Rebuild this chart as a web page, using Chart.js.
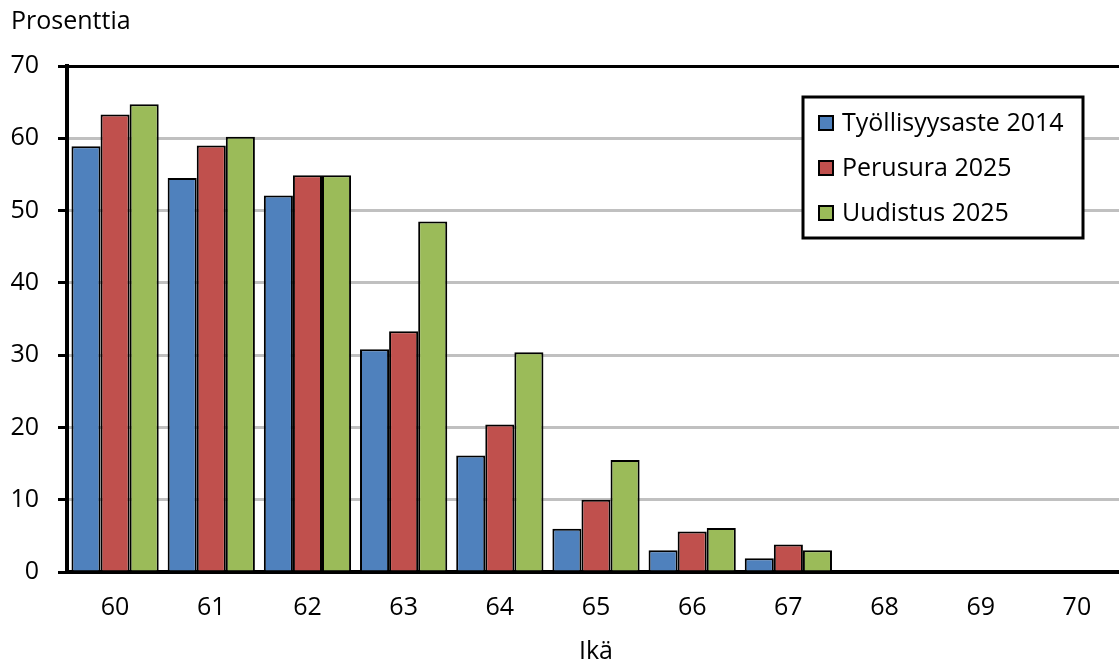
<!DOCTYPE html>
<html>
<head>
<meta charset="utf-8">
<script src="https://cdn.jsdelivr.net/npm/chart.js@4/dist/chart.umd.min.js"></script>
<style>
  html, body { margin: 0; padding: 0; background: #fff; overflow: hidden; }
  #wrap { width: 1119px; height: 668px; overflow: hidden; }
  canvas { display: block; }
</style>
</head>
<body>
<div id="wrap"><canvas id="c" width="1130" height="668"></canvas></div>
<script>
// Ages on the horizontal axis
const ages = ['60', '61', '62', '63', '64', '65', '66', '67', '68', '69', '70'];

// Employment rate by age, percent
const tyollisyysaste2014 = [58.9, 54.5, 52.1, 30.8, 16.1, 6.0, 3.0, 1.9, 0, 0, 0];
const perusura2025       = [63.3, 59.0, 54.9, 33.3, 20.4, 10.0, 5.6, 3.8, 0, 0, 0];
const uudistus2025       = [64.7, 60.2, 54.9, 48.5, 30.4, 15.5, 6.1, 3.0, 0, 0, 0];

const seriesLabels = ['Työllisyysaste 2014', 'Perusura 2025', 'Uudistus 2025'];
const seriesColors = ['#4F81BD', '#C0504D', '#9BBB59'];

const yTicks = [0, 10, 20, 30, 40, 50, 60, 70];
const yTitle = 'Prosenttia';
const xTitle = 'Ikä';

const FONT = '"Open Sans", "Noto Sans", sans-serif';
const FS = 25;

// Boxed legend inside the plot area, plus the y-axis caption above it
const overlay = {
  id: 'overlay',
  afterDraw(chart) {
    const ctx = chart.ctx;
    ctx.save();
    ctx.fillStyle = '#000';
    ctx.font = FS + 'px ' + FONT;
    ctx.textBaseline = 'alphabetic';
    ctx.textAlign = 'left';
    ctx.fillText(yTitle, 11, 29);

    const bx = 803, by = 97, bw = 280, bh = 141;
    ctx.fillStyle = '#fff';
    ctx.fillRect(bx, by, bw, bh);
    ctx.lineWidth = 3;
    ctx.strokeStyle = '#000';
    ctx.strokeRect(bx, by, bw, bh);
    ctx.textBaseline = 'middle';
    chart.data.datasets.forEach((ds, i) => {
      const cy = 123 + i * 45;
      ctx.fillStyle = ds.backgroundColor;
      ctx.fillRect(819, cy - 7, 14, 14);
      ctx.lineWidth = 2;
      ctx.strokeRect(819, cy - 7, 14, 14);
      ctx.fillStyle = '#000';
      ctx.fillText(ds.label, 842, cy + 1);
    });
    ctx.restore();
  }
};

new Chart(document.getElementById('c'), {
  type: 'bar',
  data: {
    labels: ages,
    datasets: [tyollisyysaste2014, perusura2025, uudistus2025].map((d, i) => ({
      label: seriesLabels[i],
      data: d,
      backgroundColor: seriesColors[i],
      borderColor: '#000',
      borderWidth: 2,
      categoryPercentage: 0.907,
      barPercentage: 1.0
    }))
  },
  options: {
    responsive: false,
    animation: false,
    devicePixelRatio: 1,
    layout: { padding: { top: 66, left: 11, right: 5, bottom: 0 } },
    plugins: {
      legend: { display: false },
      title: { display: false },
      tooltip: { enabled: false }
    },
    scales: {
      x: {
        grid: { display: false, drawTicks: false },
        border: { display: true, color: '#000', width: 4 },
        ticks: { color: '#000', font: { family: FONT, size: FS }, padding: 21, maxRotation: 0 },
        title: { display: true, text: xTitle, color: '#000', font: { family: FONT, size: FS }, padding: { top: 0, bottom: 1 } },
        afterFit(scale) { scale.height = 96; }
      },
      y: {
        min: 0,
        max: 70,
        afterBuildTicks(scale) { scale.ticks = yTicks.map(v => ({ value: v })); },
        grid: {
          color: ctx => (ctx.tick && ctx.tick.value === 70) ? '#000' : '#C0C0C0',
          lineWidth: 3,
          tickColor: '#000',
          tickWidth: 3,
          tickLength: 9,
          drawTicks: true
        },
        border: { display: true, color: '#000', width: 4 },
        ticks: { color: '#000', font: { family: FONT, size: FS }, padding: 19 },
        afterFit(scale) { scale.width = 56; }
      }
    }
  },
  plugins: [overlay]
});
</script>
</body>
</html>
